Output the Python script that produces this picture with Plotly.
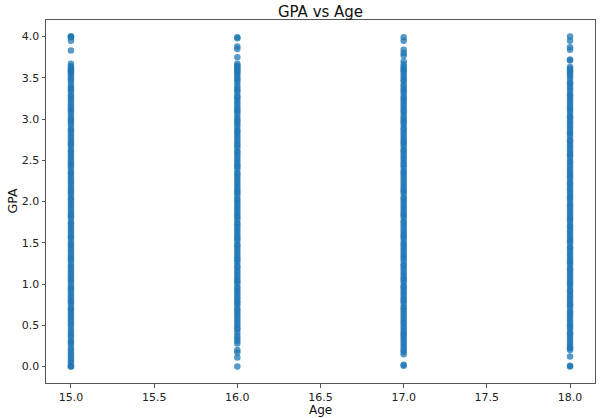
import plotly.graph_objects as go

ages = [15, 16, 17, 18]

gpa_age15 = [4.00, 4.00, 3.99, 3.95, 3.83, 3.67, 3.64, 3.62, 3.60, 3.59, 3.57, 3.56,
             3.53, 3.50, 3.48, 3.45, 3.41, 3.38, 3.36, 3.33, 3.29, 3.27, 3.24, 3.21, 3.18, 3.15,
             3.12, 3.10, 3.07, 3.03, 3.00, 2.98, 2.95, 2.92, 2.88, 2.86, 2.83, 2.80, 2.77, 2.74,
             2.71, 2.69, 2.66, 2.62, 2.60, 2.57, 2.54, 2.51, 2.48, 2.45, 2.43, 2.40, 2.36, 2.34,
             2.31, 2.28, 2.25, 2.22, 2.19, 2.16, 2.13, 2.11, 2.08, 2.04, 2.02, 1.99, 1.96, 1.93,
             1.90, 1.87, 1.84, 1.82, 1.79, 1.75, 1.73, 1.70, 1.67, 1.64, 1.61, 1.58, 1.56, 1.53,
             1.49, 1.47, 1.44, 1.41, 1.38, 1.35, 1.32, 1.30, 1.27, 1.23, 1.21, 1.18, 1.15, 1.12,
             1.09, 1.06, 1.04, 1.01, 0.97, 0.95, 0.92, 0.89, 0.86, 0.83, 0.80, 0.78, 0.75, 0.71,
             0.69, 0.66, 0.63, 0.60, 0.57, 0.54, 0.51,
             0.48, 0.44, 0.41, 0.38, 0.35, 0.31, 0.29, 0.26, 0.22, 0.19, 0.16, 0.13, 0.10, 0.07,
             0.05, 0.01, 0.00, 0.00]

gpa_age16 = [3.99, 3.98, 3.88, 3.85, 3.75, 3.67, 3.65, 3.63, 3.61, 3.59, 3.57,
             3.55, 3.52, 3.49, 3.47, 3.44, 3.40, 3.37, 3.35, 3.32, 3.28, 3.26, 3.23, 3.20, 3.17,
             3.14, 3.11, 3.09, 3.06, 3.02, 2.99, 2.97, 2.94, 2.91, 2.87, 2.85, 2.82, 2.79, 2.76,
             2.73, 2.70, 2.68, 2.65, 2.61, 2.59, 2.56, 2.53, 2.50, 2.47, 2.44, 2.42, 2.39, 2.35,
             2.33, 2.30, 2.27, 2.24, 2.21, 2.18, 2.15, 2.12, 2.10, 2.07, 2.03, 2.01, 1.98, 1.95,
             1.92, 1.89, 1.86, 1.83, 1.81, 1.78, 1.74, 1.72, 1.69, 1.66, 1.63, 1.60, 1.57, 1.55,
             1.52, 1.48, 1.46, 1.43, 1.40, 1.37, 1.34, 1.31, 1.29, 1.26, 1.22, 1.20, 1.17, 1.14,
             1.11, 1.08, 1.05, 1.03, 1.00, 0.96, 0.94, 0.91, 0.88, 0.85, 0.82, 0.79, 0.77, 0.74,
             0.70, 0.68, 0.65, 0.62, 0.59, 0.56, 0.53, 0.50, 0.47, 0.45, 0.41, 0.37, 0.34, 0.31,
             0.28, 0.20, 0.17, 0.11, 0.00]

gpa_age17 = [3.99, 3.95, 3.84, 3.80, 3.77, 3.70, 3.66, 3.63, 3.61, 3.59,
             3.57, 3.54, 3.51, 3.48, 3.46, 3.42, 3.39, 3.36, 3.34, 3.31, 3.27, 3.25, 3.22, 3.19,
             3.16, 3.13, 3.10, 3.08, 3.04, 3.01, 2.98, 2.96, 2.93, 2.89, 2.87, 2.84, 2.81, 2.78,
             2.75, 2.72, 2.70, 2.67, 2.63, 2.61, 2.58, 2.55, 2.52, 2.49, 2.46, 2.44, 2.41, 2.37,
             2.35, 2.32, 2.29, 2.26, 2.23, 2.20, 2.17, 2.14, 2.12, 2.09, 2.05, 2.03, 2.00, 1.97,
             1.94, 1.91, 1.88, 1.85, 1.83, 1.80, 1.76, 1.74, 1.71, 1.68, 1.65, 1.62, 1.59, 1.57,
             1.54, 1.50, 1.48, 1.45, 1.42, 1.39, 1.36, 1.33, 1.31, 1.28, 1.24, 1.22, 1.19, 1.16,
             1.13, 1.10, 1.07, 1.05, 1.02, 0.98, 0.96, 0.93, 0.90, 0.87, 0.84, 0.81, 0.79, 0.76,
             0.72, 0.70, 0.67, 0.64, 0.61, 0.58, 0.55, 0.52, 0.49, 0.46, 0.43, 0.40, 0.38, 0.35,
             0.32, 0.29, 0.26, 0.23, 0.20, 0.18,
             0.15, 0.02, 0.01]

gpa_age18 = [4.00, 3.95, 3.87, 3.84, 3.72, 3.71, 3.63, 3.61, 3.59,
             3.57, 3.55, 3.52, 3.49, 3.45, 3.43, 3.40, 3.37, 3.34, 3.30, 3.28, 3.25, 3.22, 3.19,
             3.16, 3.13, 3.11, 3.08, 3.04, 3.02, 2.99, 2.96, 2.93, 2.90, 2.87, 2.84, 2.82, 2.79,
             2.75, 2.73, 2.70, 2.67, 2.64, 2.61, 2.58, 2.56, 2.53, 2.49, 2.47, 2.44, 2.41, 2.38,
             2.35, 2.32, 2.30, 2.27, 2.23, 2.21, 2.18, 2.15, 2.12, 2.09, 2.06, 2.04, 2.01, 1.97,
             1.95, 1.92, 1.89, 1.86, 1.83, 1.80, 1.78, 1.75, 1.71, 1.69, 1.66, 1.63, 1.60, 1.57,
             1.54, 1.52, 1.49, 1.45, 1.43, 1.40, 1.37, 1.34, 1.31, 1.28, 1.26, 1.23, 1.19, 1.17,
             1.14, 1.11, 1.08, 1.05, 1.02, 1.00, 0.97, 0.93, 0.91, 0.88, 0.85, 0.82, 0.79, 0.76,
             0.74, 0.71, 0.67, 0.65, 0.62, 0.59, 0.56, 0.53, 0.50, 0.48, 0.45, 0.41, 0.39, 0.36,
             0.33, 0.30, 0.27, 0.24, 0.22,
             0.20, 0.12, 0.01, 0.00]

x_ticks = [15.0, 15.5, 16.0, 16.5, 17.0, 17.5, 18.0]
y_ticks = [0.0, 0.5, 1.0, 1.5, 2.0, 2.5, 3.0, 3.5, 4.0]

xs, ys = [], []
for age, vals in zip(ages, [gpa_age15, gpa_age16, gpa_age17, gpa_age18]):
    xs += [age] * len(vals)
    ys += vals

FONT = "DejaVu Sans"
TXT = "#222222"

fig = go.Figure(go.Scatter(
    x=xs, y=ys, mode="markers",
    marker=dict(size=6.5, color="#1f77b4", opacity=0.75, line=dict(width=0)),
    hoverinfo="skip",
))

axis_common = dict(
    showgrid=False, zeroline=False, showline=True, linecolor="#555555",
    linewidth=1, mirror=True, ticks="outside", ticklen=3.5, tickwidth=1,
    tickcolor="#555555", tickfont=dict(family=FONT, size=11, color=TXT),
    automargin=False,
)

fig.update_layout(
    width=603, height=418,
    margin=dict(l=46, r=8, t=20, b=35),
    paper_bgcolor="white", plot_bgcolor="white",
    showlegend=False,
    title=dict(text="GPA vs Age", x=0.5, xref="paper", y=1 - 11.5 / 418,
               yref="container", xanchor="center", yanchor="middle",
               font=dict(family=FONT, size=15, color="#111111")),
    xaxis=dict(range=[14.85, 18.15], tickvals=x_ticks,
               ticktext=[f"{v:.1f}" for v in x_ticks],
               **axis_common),
    yaxis=dict(range=[-0.2, 4.2], tickvals=y_ticks,
               ticktext=[f"{v:.1f}" for v in y_ticks],
               **axis_common),
    annotations=[
        dict(text="Age", xref="paper", yref="paper", x=0.5, y=-(410 - 383) / 363,
             xanchor="center", yanchor="middle", showarrow=False,
             font=dict(family=FONT, size=12, color="#111111")),
        dict(text="GPA", xref="paper", yref="paper", x=-(46 - 12) / 549, y=0.5,
             xanchor="center", yanchor="middle", showarrow=False, textangle=-90,
             font=dict(family=FONT, size=12.5, color="#111111")),
    ],
)

fig.write_html("out.html", config={"displayModeBar": False},
               post_script="document.body.style.margin='0';document.body.style.overflow='hidden';")
